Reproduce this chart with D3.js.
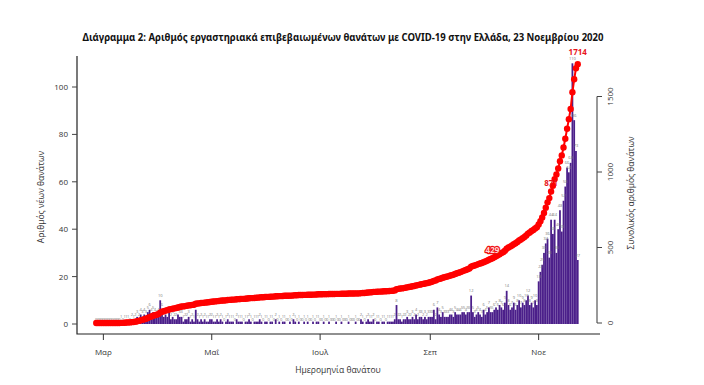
<!DOCTYPE html>
<html>
<head>
<meta charset="utf-8">
<script src="https://cdn.jsdelivr.net/npm/d3@7"></script>
<style>
  body { margin: 0; background: #fff; }
  svg { display: block; }
  text { font-family: "Open Sans", "Noto Sans", sans-serif; }
</style>
</head>
<body>
<svg id="chart" width="704" height="385"></svg>
<script>
// daily deaths by date of death, Feb 26 .. Nov 23 2020
const firstDay = "2020-02-26";
const febDeaths = [0, 0, 0, 0];
const marDeaths = [0,0,0,0,0,0,0,0,0,0, 1,0,1,1,1,0,2,1,2, 3,2,4,3,4,3,5,6,4,5,4,3];
const aprDeaths = [4,10,6,3,4,3,5,2,3,2, 2,4,3,3,1,2,2,3,1,2, 1,6,2,1,2,1,2,1,1,2];
const mayDeaths = [2,1,1,2,1,2,1,0,1,2, 1,1,1,0,2,1,1,1,0,1, 1,2,1,0,1,1,1,2,1,0,1];
const junDeaths = [1,0,1,1,0,2,0,1,0,1, 1,0,0,1,0,2,1,0,1,0, 0,1,0,1,0,0,1,0,1,1];
const julDeaths = [0,0,1,0,0,1,0,0,0,1, 0,0,1,0,0,0,1,0,0,0, 1,0,0,2,1,0,1,2,1,1,2];
const augDeaths = [0,1,1,0,1,1,0,1,1,1, 1,2,8,2,2,1,2,2,3,2, 2,3,2,4,2,3,3,2,3,2,3];
const sepDeaths = [3,3,6,2,7,4,3,5,3,3, 3,4,4,3,5,4,4,4,5,5, 4,5,5,12,5,3,4,5,4,3];
const octDeaths = [6,4,5,7,5,5, 6,7,6,8,7, 6,9,14,8,6, 7,9,6,8,10, 7,9,8,10,12, 8,9,7,10,8];
const novDeaths = [18,22,25,30,34,36,28,44, 38,44,30,40,48,39,52,58,66,64,68,110,86,73,27];

// month ticks and labelled cumulative points
const tickDates = ["2020-03-01", "2020-05-01", "2020-07-01", "2020-09-01", "2020-11-01"];
const tickLabels = ["Μαρ", "Μαΐ", "Ιουλ", "Σεπ", "Νοε"];
const yTicks = [0, 20, 40, 60, 80, 100];
const y2Ticks = [0, 500, 1000, 1500];
const markedDates = ["2020-10-06", "2020-11-08", "2020-11-23"];

const parse = d3.utcParse("%Y-%m-%d");
const daily = [].concat(febDeaths, marDeaths, aprDeaths, mayDeaths, junDeaths,
                        julDeaths, augDeaths, sepDeaths, octDeaths, novDeaths);
const start = parse(firstDay);
let run = 0;
const data = daily.map((v, i) => {
  run += v;
  return { date: d3.utcDay.offset(start, i), n: v, cum: run };
});

const svg = d3.select("#chart");

// R style 4% padding on the date range
const t0 = data[0].date, t1 = data[data.length - 1].date;
const pad = (t1 - t0) * 0.04;
const x = d3.scaleUtc()
  .domain([new Date(+t0 - pad), new Date(+t1 + pad)])
  .range([77, 597]);
const y = d3.scaleLinear().domain([0, 100]).range([324, 87]);
const y2 = d3.scaleLinear().domain([0, 1500]).range([323, 96.5]);
const step = x(d3.utcDay.offset(t0, 1)) - x(t0);

// title
svg.append("text")
  .attr("x", 343).attr("y", 41)
  .attr("text-anchor", "middle")
  .attr("textLength", 521).attr("lengthAdjust", "spacingAndGlyphs")
  .style("font-family", "'Noto Sans', sans-serif")
  .style("font-weight", "bold").style("font-size", "10.5px").attr("fill", "#111")
  .text("Διάγραμμα 2: Αριθμός εργαστηριακά επιβεβαιωμένων θανάτων με COVID-19 στην Ελλάδα, 23 Νοεμβρίου 2020");

// bars
svg.append("g").selectAll("rect")
  .data(data.filter(d => d.n > 0))
  .join("rect")
  .attr("x", d => x(d.date) - step * 0.5)
  .attr("width", step)
  .attr("y", d => y(d.n))
  .attr("height", d => y(0) - y(d.n))
  .attr("fill", "#4b1f8a");

// tiny value labels above bars
svg.append("g").selectAll("text")
  .data(data)
  .join("text")
  .attr("x", d => x(d.date))
  .attr("y", d => y(d.n) - 3.5)
  .attr("text-anchor", "middle")
  .style("font-size", "4px")
  .attr("fill", "#777")
  .text(d => d.n);

// cumulative line with points
const line = d3.line().x(d => x(d.date)).y(d => y2(d.cum));
svg.append("path")
  .datum(data)
  .attr("d", line)
  .attr("fill", "none")
  .attr("stroke", "#ff0000")
  .attr("stroke-width", 2);
svg.append("g").selectAll("circle")
  .data(data)
  .join("circle")
  .attr("cx", d => x(d.date))
  .attr("cy", d => y2(d.cum))
  .attr("r", 3.2)
  .attr("fill", "#ff0000");

// labels on the cumulative line
const marks = markedDates.map(s => data.find(d => +d.date === +parse(s)));
svg.append("g").selectAll("text")
  .data(marks)
  .join("text")
  .attr("x", d => x(d.date))
  .attr("y", (d, i) => y2(d.cum) - (i === 2 ? 9.5 : 5))
  .attr("text-anchor", "middle")
  .style("font-size", "8px").style("font-weight", "bold")
  .style("paint-order", "stroke")
  .attr("fill", (d, i) => i === 0 ? "#ffd6d6" : "#e8141a")
  .attr("stroke", (d, i) => i === 0 ? "#f01010" : "none")
  .attr("stroke-width", 2.4)
  .attr("stroke-linejoin", "round")
  .text(d => d.cum);

// frame (bty = "l")
svg.append("path")
  .attr("d", `M77,56V334H600`)
  .attr("fill", "none").attr("stroke", "#222").attr("stroke-width", 1.2);

// left axis
const gl = svg.append("g");
gl.selectAll("line").data(yTicks).join("line")
  .attr("x1", 72).attr("x2", 77)
  .attr("y1", d => y(d)).attr("y2", d => y(d))
  .attr("stroke", "#444");
gl.selectAll("text").data(yTicks).join("text")
  .attr("x", 68).attr("y", d => y(d) + 3)
  .attr("text-anchor", "end")
  .style("font-size", "8px").attr("fill", "#333")
  .text(d => d);
svg.append("text")
  .attr("transform", "translate(44,197) rotate(-90)")
  .attr("text-anchor", "middle")
  .style("font-size", "8.5px").attr("fill", "#333")
  .text("Αριθμός νέων θανάτων");

// right axis
const gr = svg.append("g");
gr.append("line")
  .attr("x1", 597).attr("x2", 597)
  .attr("y1", y2(0)).attr("y2", y2(1500))
  .attr("stroke", "#555").attr("stroke-width", 1.2);
gr.selectAll("line.t").data(y2Ticks).join("line")
  .attr("class", "t")
  .attr("x1", 597).attr("x2", 602)
  .attr("y1", d => y2(d)).attr("y2", d => y2(d))
  .attr("stroke", "#444");
gr.selectAll("text").data(y2Ticks).join("text")
  .attr("transform", d => `translate(613,${y2(d)}) rotate(-90)`)
  .attr("text-anchor", "middle")
  .style("font-size", "8px").attr("fill", "#333")
  .text(d => d);
svg.append("text")
  .attr("transform", "translate(634,193) rotate(-90)")
  .attr("text-anchor", "middle")
  .style("font-size", "8.5px").attr("fill", "#333")
  .text("Συνολικός αριθμός θανάτων");

// x axis
const gx = svg.append("g");
gx.selectAll("line").data(tickDates).join("line")
  .attr("x1", d => x(parse(d))).attr("x2", d => x(parse(d)))
  .attr("y1", 334).attr("y2", 340)
  .attr("stroke", "#333");
gx.selectAll("text").data(tickDates).join("text")
  .attr("x", d => x(parse(d))).attr("y", 355)
  .attr("text-anchor", "middle")
  .style("font-size", "8px").attr("fill", "#333")
  .text((d, i) => tickLabels[i]);
svg.append("text")
  .attr("x", 338).attr("y", 373)
  .attr("text-anchor", "middle")
  .style("font-size", "8.5px").attr("fill", "#333")
  .text("Ημερομηνία θανάτου");
</script>
</body>
</html>
